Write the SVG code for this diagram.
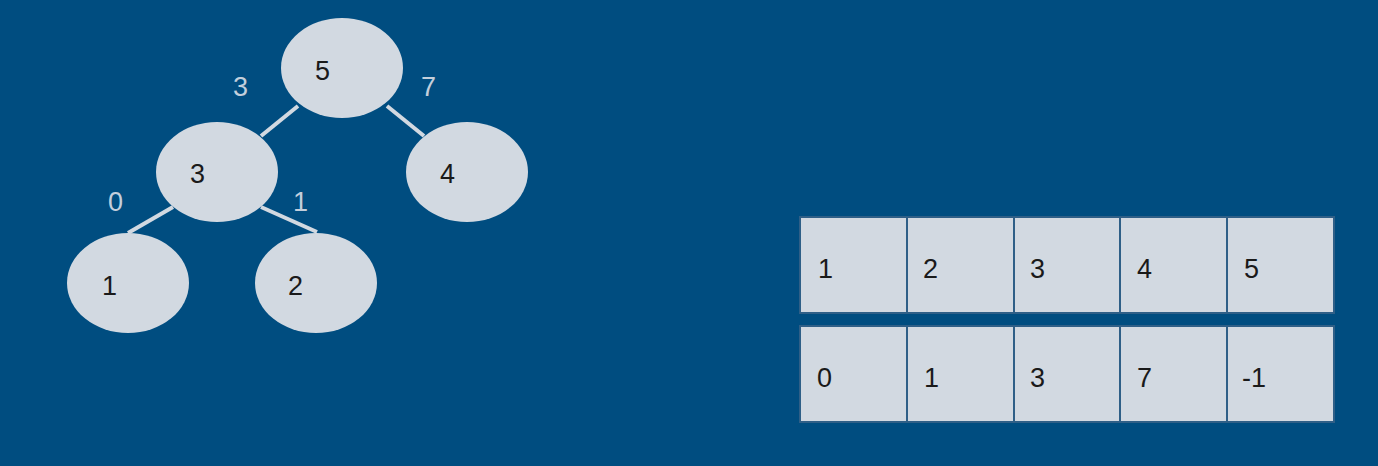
<svg xmlns="http://www.w3.org/2000/svg" width="1378" height="466" viewBox="0 0 1378 466">
<style>
.node{fill:#d2d9e1}
.edge{stroke:#d2d9e1;stroke-width:4;fill:none}
.t{font-family:"Liberation Sans",Arial,sans-serif;font-size:27px;fill:#1a1a1a}
.el{font-family:"Liberation Sans",Arial,sans-serif;font-size:27px;fill:#c3cfdc}
.cell{fill:#d2d9e1;stroke:#2f5f87;stroke-width:2}
</style>
<rect width="1378" height="466" fill="#004d80"/>
<g id="connectors">
<line class="edge" x1="298" y1="106" x2="261" y2="136"/>
<line class="edge" x1="387" y1="106" x2="424" y2="136"/>
<line class="edge" x1="173" y1="207" x2="128" y2="233"/>
<line class="edge" x1="261" y1="207" x2="317" y2="232"/>
<text class="el" x="233" y="96">3</text>
<text class="el" x="421" y="96">7</text>
<text class="el" x="108" y="211">0</text>
<text class="el" x="293" y="211">1</text>
</g>
<g id="n5"><ellipse class="node" cx="342" cy="68" rx="61" ry="50"/><text class="t" x="315" y="80">5</text></g>
<g id="n3"><ellipse class="node" cx="217" cy="172" rx="61" ry="50"/><text class="t" x="190" y="183">3</text></g>
<g id="n4"><ellipse class="node" cx="467" cy="172" rx="61" ry="50"/><text class="t" x="440" y="183">4</text></g>
<g id="n1"><ellipse class="node" cx="128" cy="283" rx="61" ry="50"/><text class="t" x="102" y="295">1</text></g>
<g id="n2"><ellipse class="node" cx="316" cy="283" rx="61" ry="50"/><text class="t" x="288" y="295">2</text></g>
<g id="table">
<rect class="cell" x="800" y="217" width="107" height="96"/>
<rect class="cell" x="907" y="217" width="107" height="96"/>
<rect class="cell" x="1014" y="217" width="106" height="96"/>
<rect class="cell" x="1120" y="217" width="107" height="96"/>
<rect class="cell" x="1227" y="217" width="107" height="96"/>
<rect class="cell" x="800" y="326" width="107" height="96"/>
<rect class="cell" x="907" y="326" width="107" height="96"/>
<rect class="cell" x="1014" y="326" width="106" height="96"/>
<rect class="cell" x="1120" y="326" width="107" height="96"/>
<rect class="cell" x="1227" y="326" width="107" height="96"/>
<text class="t" x="818" y="278">1</text>
<text class="t" x="923" y="278">2</text>
<text class="t" x="1030" y="278">3</text>
<text class="t" x="1137" y="278">4</text>
<text class="t" x="1244" y="278">5</text>
<text class="t" x="817" y="387">0</text>
<text class="t" x="924" y="387">1</text>
<text class="t" x="1030" y="387">3</text>
<text class="t" x="1137" y="387">7</text>
<text class="t" x="1242" y="387">-1</text>
</g>
</svg>
